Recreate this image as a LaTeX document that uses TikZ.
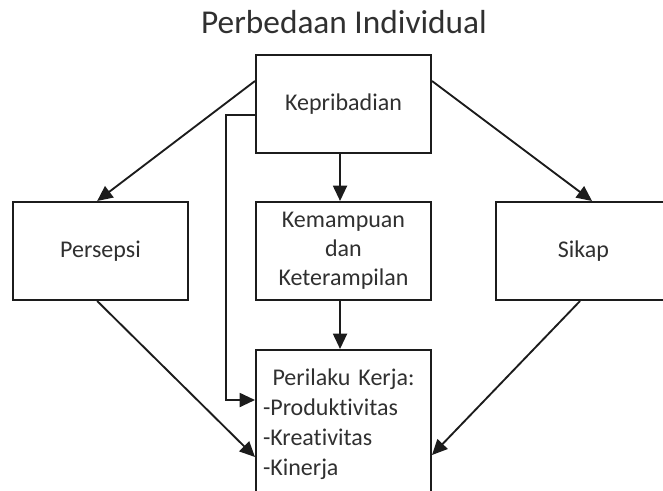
\documentclass[tikz,border=0pt]{standalone}
\usepackage{fontspec}
\setmainfont{Carlito}[Ligatures={NoCommon}]
\usetikzlibrary{arrows.meta}

\definecolor{linegray}{RGB}{28,28,28}
\definecolor{textgray}{RGB}{48,48,48}

\tikzset{
  box/.style={draw=linegray, line width=1.5pt, inner sep=0pt, text=textgray,
    minimum width=131.25pt, minimum height=73.5pt, align=center,
    font=\fontsize{18}{21.75}\selectfont},
  link/.style={draw=linegray, line width=1.4pt, -{Triangle[length=11.5pt,width=10.5pt]}},
}

\begin{document}
\begin{tikzpicture}[x=0.75pt,y=0.75pt,yscale=-1]
\useasboundingbox (0,0) rectangle (663,490);
\clip (0,0) rectangle (663,490);

% Title
\node (title) [anchor=base, text=textgray, font=\fontsize{25}{30}\selectfont] at (344,33) {Perbedaan Individual};

% Boxes
\node (kepribadian) [box] at (343.5,104) {Kepribadian};
\node (persepsi) [box] at (100.5,251) {Persepsi};
\node (kemampuan) [box] at (343.5,251) {Kemampuan\\dan\\Keterampilan};
\node (sikap) [box] at (583.5,251) {Sikap};
\node (perilaku) [box, minimum height=111pt, text width=120.75pt, align=left,
  font=\fontsize{18}{22.5}\selectfont] at (343.5,424)
  {\makebox[120.75pt]{Perilaku Kerja:}\\-Produktivitas\\-Kreativitas\\-Kinerja};

% Arrows (yshift is flipped by yscale=-1)
\draw [link] ([yshift=-17.25pt]kepribadian.west) -- ([xshift=-2.5pt]persepsi.north);
\draw [link] ([yshift=-17.25pt]kepribadian.east) -- ([xshift=6.4pt]sikap.north);
\draw [link] ([xshift=-2.6pt]kepribadian.south) -- ([xshift=-2.6pt]kemampuan.north);
\draw [link] ([xshift=-2.6pt]kemampuan.south) -- ([xshift=-2.6pt]perilaku.north);
\draw [link] ([yshift=8.25pt]kepribadian.west) -- ++(-29,0) |- ([yshift=-18pt]perilaku.west);
\draw [link] ([xshift=-2.5pt]persepsi.south) -- ([yshift=24.75pt]perilaku.west);
\draw [link] ([xshift=-2.6pt]sikap.south) -- ([yshift=23.25pt]perilaku.east);

\end{tikzpicture}
\end{document}
